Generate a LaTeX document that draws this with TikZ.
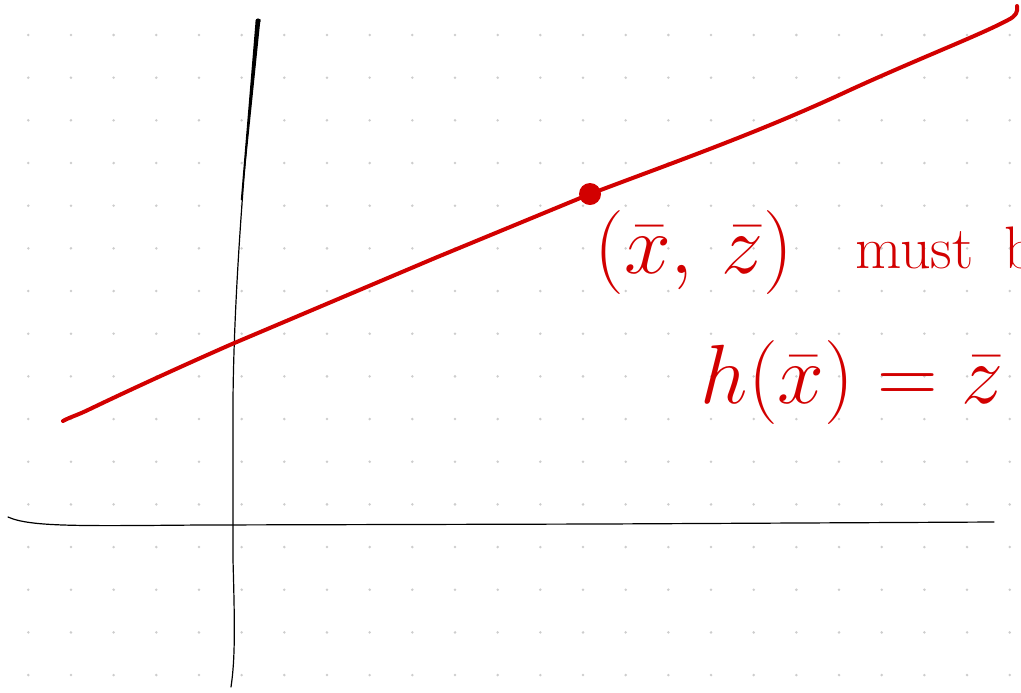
\RequirePackage{fix-cm}
\documentclass[tikz,border=0pt]{standalone}
\usepackage{amsmath, amssymb}
\usepackage{xcolor}
\usepackage{tikz}
\usetikzlibrary{positioning, arrows.meta}

\definecolor{inkred}{RGB}{210,0,0}
\definecolor{dotgray}{RGB}{205,205,205}

\begin{document}
\begin{tikzpicture}[x=0.5pt,y=-0.5pt,
    axisline/.style={black, line width=0.6pt, line cap=round},
    redline/.style={inkred, line width=2pt, line cap=round, line join=round},
    handtext/.style={inkred, inner sep=0pt, font=\fontsize{42}{50}\selectfont},
    dot/.style={circle, fill=inkred, inner sep=0pt, minimum size=11pt}]
       \useasboundingbox (0,0) rectangle (1021,692);
       \clip (0,0) rectangle (1021,692);

       % dotted paper
       \foreach \i in {0,...,23}
         \foreach \j in {0,...,15}
           \fill[dotgray] (28.3+42.67*\i, 35+42.67*\j) circle (1.4);

       % axes
       \draw[axisline] (8,517) .. controls (30,527) and (80,526) .. (200,525)
            -- (600,524) -- (994,522);
       \draw[axisline] (258,22) .. controls (245,150) and (234,290) .. (233,400)
            -- (233,560) .. controls (235,630) and (235,660) .. (231,687);
       \fill (255.5,22) -- (260.5,19) -- (242,200) -- (240.8,200) -- cycle;
       \fill (258,21) circle (2.6);

       % line and the point on it
       \draw[redline] (63,421) .. controls (70,417) and (78,415) .. (90,409)
            .. controls (140,385) and (200,358) .. (232,344)
            -- (435,258) -- (590,194)
            .. controls (680,160) and (760,132) .. (850,90)
            .. controls (920,58) and (980,35) .. (1008,20)
            .. controls (1016,16) and (1018,12) .. (1017,6);
       \node[dot] (pt) at (590,194) {};

       % labels
       \node[handtext, anchor=center] (pair) at (694,252) {$(\bar{x},\, \bar{z})$};
       \node[handtext, anchor=base west, font=\fontsize{30}{36}\selectfont]
            (must) at (855,268) {must\hspace{0.52em}b};
       \node[handtext, anchor=center] (eqn) at (852,382) {$h(\bar{x}) = \bar{z}$};
    \end{tikzpicture}
\end{document}
